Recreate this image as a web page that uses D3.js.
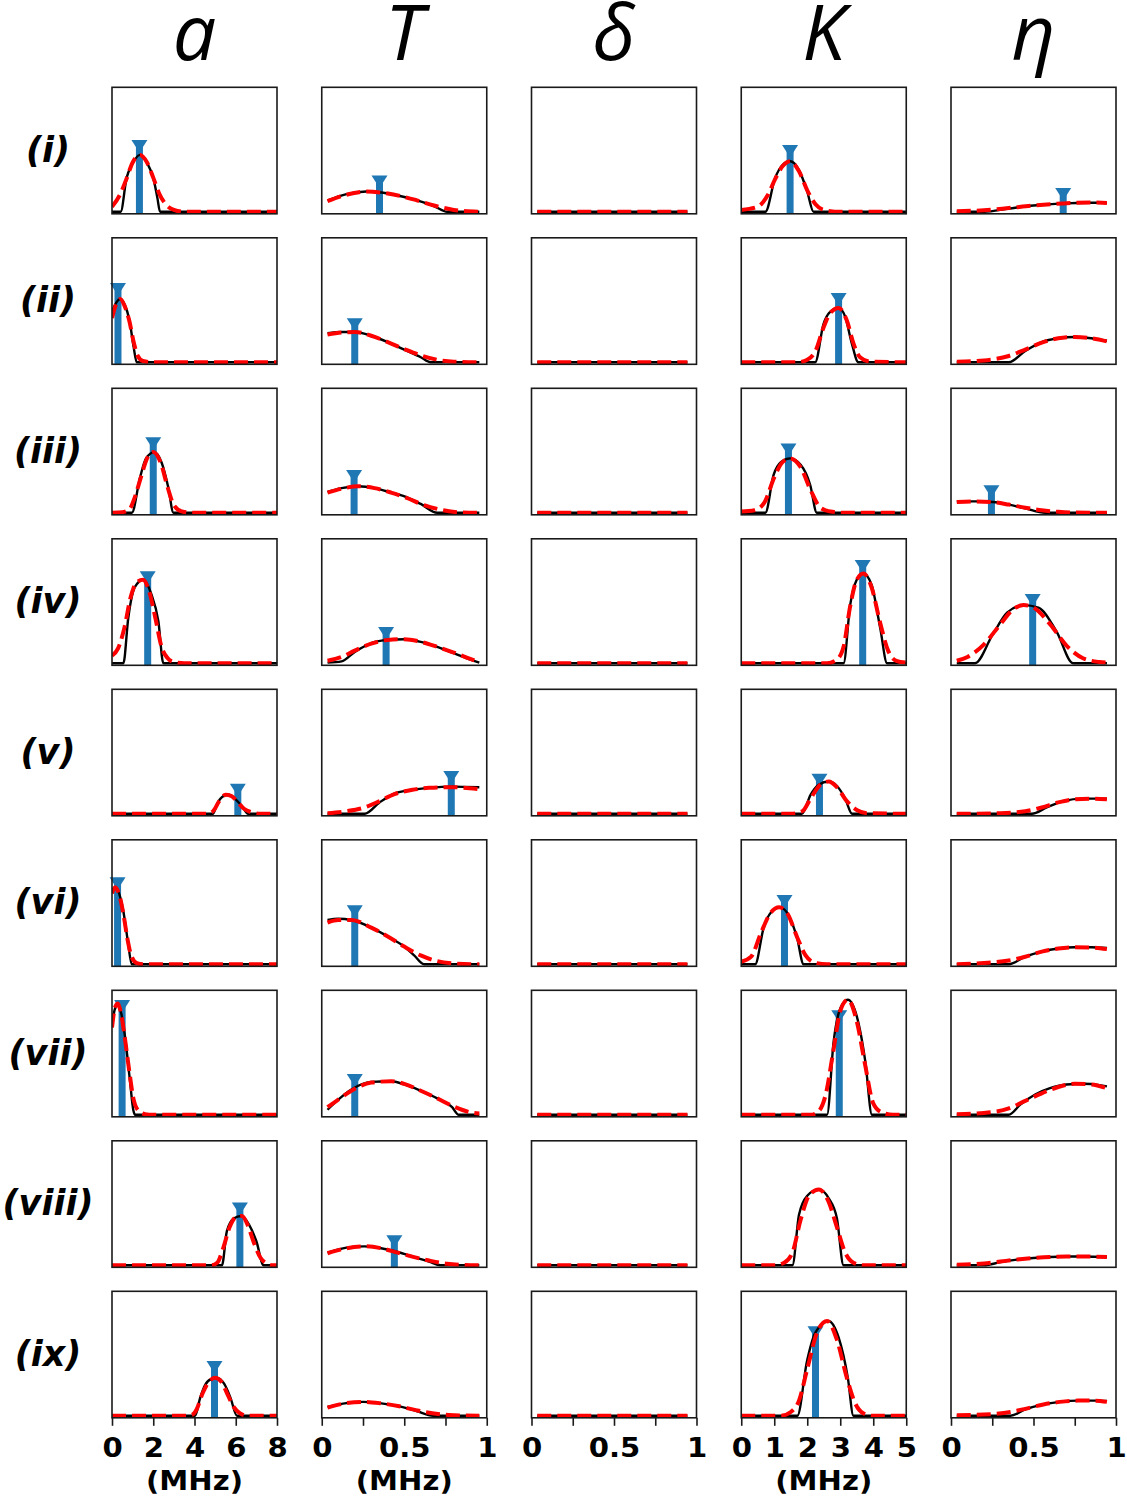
<!DOCTYPE html>
<html><head><meta charset="utf-8">
<script src="https://cdn.jsdelivr.net/npm/d3@7"></script>
<style>body{margin:0;background:#fff}</style>
</head><body><svg id="chart" width="1127" height="1500"></svg>
<script>
// ---------- labels & axes ----------
const rowLabels = ["(i)","(ii)","(iii)","(iv)","(v)","(vi)","(vii)","(viii)","(ix)"];
const paramNames = ["a","T","δ","K","η"];
const xDomains = [[0,8],[0,1],[0,1],[0,5],[0,1]];
const xTicks = [[0,2,4,6,8],[0,0.25,0.5,0.75,1],[0,0.25,0.5,0.75,1],[0,1,2,3,4,5],[0,0.25,0.5,0.75,1]];
const xTickLabels = [["0","2","4","6","8"],["0","","0.5","","1"],["0","","0.5","","1"],["0","1","2","3","4","5"],["0","","0.5","","1"]];
const unitLabels = ["(MHz)","(MHz)","","(MHz)",""];

// ---------- parameter a (MHz): black = reference posterior, red = approximation ----------
const aBlack = [
 [[0,0],[0.42,0],[0.71,0.27],[0.96,0.37],[1.36,0.45],[1.75,0.37],[2.0,0.27],[2.2,0.11],[2.33,0],[8,0]],
 [[0,0.40],[0.2,0.47],[0.4,0.50],[0.6,0.46],[0.85,0.33],[1.05,0.12],[1.2,0],[8,0]],
 [[0,0],[0.96,0],[1.36,0.28],[1.65,0.43],[2.05,0.48],[2.4,0.40],[2.73,0.20],[2.98,0],[8,0]],
 [[0,0],[0.55,0],[0.79,0.36],[1.1,0.60],[1.52,0.66],[1.9,0.55],[2.25,0.33],[2.49,0],[8,0]],
 [[0,0],[4.9,0],[5.1,0.08],[5.4,0.14],[5.65,0.15],[5.95,0.12],[6.3,0.06],[6.6,0],[8,0]],
 [[0,0.58],[0.18,0.61],[0.4,0.53],[0.55,0.42],[0.77,0.18],[0.96,0],[8,0]],
 [[0,0.72],[0.15,0.84],[0.3,0.87],[0.45,0.80],[0.63,0.62],[0.87,0.27],[1.03,0.04],[1.12,0],[8,0]],
 [[0,0],[5.33,0],[5.57,0.27],[5.9,0.37],[6.27,0.39],[6.65,0.32],[7.0,0.19],[7.35,0],[8,0]],
 [[0,0],[4.03,0],[4.27,0.14],[4.5,0.24],[4.8,0.29],[5.1,0.30],[5.45,0.25],[5.75,0.14],[6.06,0],[8,0]]
];
const aRed = [
 [[0,0.04],[0.4,0.14],[0.7,0.26],[1.0,0.39],[1.36,0.45],[1.7,0.39],[2.0,0.27],[2.3,0.14],[2.6,0.06],[3.0,0.015],[3.5,0],[8,0]],
 [[0,0.35],[0.2,0.46],[0.4,0.50],[0.6,0.45],[0.85,0.32],[1.05,0.16],[1.25,0.05],[1.5,0.01],[2,0],[8,0]],
 [[0,0],[0.5,0.005],[0.85,0.03],[1.1,0.12],[1.4,0.28],[1.7,0.43],[2.0,0.48],[2.35,0.40],[2.7,0.20],[3.0,0.06],[3.4,0.01],[4,0],[8,0]],
 [[0,0.06],[0.3,0.12],[0.6,0.28],[0.9,0.52],[1.2,0.64],[1.5,0.66],[1.8,0.57],[2.1,0.36],[2.4,0.13],[2.7,0.04],[3.0,0.01],[3.5,0],[8,0]],
 [[0,0],[4.6,0],[4.9,0.02],[5.2,0.10],[5.5,0.15],[5.8,0.14],[6.1,0.09],[6.4,0.04],[6.8,0.01],[7.2,0],[8,0]],
 [[0,0.56],[0.15,0.61],[0.35,0.55],[0.55,0.40],[0.75,0.20],[0.95,0.06],[1.2,0.01],[1.5,0],[8,0]],
 [[0,0.69],[0.15,0.85],[0.28,0.88],[0.45,0.79],[0.63,0.60],[0.85,0.33],[1.05,0.12],[1.3,0.03],[1.6,0.005],[2,0],[8,0]],
 [[0,0],[4.8,0],[5.1,0.02],[5.4,0.14],[5.7,0.30],[6.0,0.38],[6.3,0.39],[6.6,0.31],[6.9,0.17],[7.2,0.06],[7.5,0.015],[7.8,0],[8,0]],
 [[0,0],[3.6,0],[3.9,0.01],[4.1,0.05],[4.4,0.18],[4.75,0.28],[5.0,0.30],[5.3,0.27],[5.6,0.17],[5.9,0.07],[6.2,0.02],[6.6,0],[8,0]]
];
const aTrue = [[1.33,0.52],[0.29,0.58],[2.0,0.55],[1.73,0.68],[6.1,0.19],[0.27,0.64],[0.49,0.86],[6.2,0.45],[4.97,0.385]];

// ---------- parameter T ----------
const TBlack = [
 [[0.035,0.09],[0.15,0.14],[0.27,0.16],[0.4,0.145],[0.55,0.10],[0.68,0.045],[0.76,0],[0.955,0]],
 [[0.035,0.23],[0.12,0.24],[0.2,0.24],[0.3,0.21],[0.4,0.16],[0.5,0.10],[0.6,0.04],[0.66,0],[0.955,0]],
 [[0.035,0.165],[0.12,0.195],[0.22,0.21],[0.32,0.195],[0.42,0.16],[0.52,0.12],[0.6,0.07],[0.7,0],[0.955,0]],
 [[0.035,0.005],[0.12,0.015],[0.2,0.09],[0.3,0.16],[0.4,0.185],[0.5,0.19],[0.6,0.17],[0.7,0.13],[0.8,0.08],[0.9,0.03],[0.955,0.005]],
 [[0.035,0],[0.26,0],[0.35,0.09],[0.44,0.16],[0.55,0.19],[0.65,0.205],[0.79,0.215],[0.955,0.21]],
 [[0.035,0.35],[0.1,0.36],[0.18,0.35],[0.3,0.29],[0.4,0.22],[0.5,0.14],[0.56,0.07],[0.62,0],[0.955,0]],
 [[0.035,0.04],[0.1,0.12],[0.18,0.20],[0.3,0.26],[0.42,0.265],[0.5,0.24],[0.6,0.19],[0.7,0.13],[0.79,0.06],[0.83,0],[0.955,0]],
 [[0.035,0.10],[0.15,0.14],[0.26,0.15],[0.36,0.135],[0.46,0.105],[0.56,0.065],[0.65,0.03],[0.72,0],[0.955,0]],
 [[0.035,0.07],[0.15,0.10],[0.25,0.11],[0.35,0.10],[0.47,0.075],[0.57,0.04],[0.675,0],[0.955,0]]
];
const TRed = [
 [[0.035,0.085],[0.15,0.135],[0.27,0.16],[0.4,0.145],[0.55,0.10],[0.68,0.05],[0.8,0.015],[0.955,0]],
 [[0.035,0.22],[0.12,0.235],[0.2,0.24],[0.3,0.21],[0.4,0.16],[0.5,0.105],[0.6,0.055],[0.7,0.02],[0.8,0.005],[0.955,0]],
 [[0.035,0.16],[0.12,0.19],[0.22,0.21],[0.32,0.195],[0.42,0.16],[0.52,0.115],[0.62,0.06],[0.72,0.025],[0.82,0.005],[0.955,0]],
 [[0.035,0.02],[0.12,0.05],[0.2,0.10],[0.3,0.155],[0.4,0.185],[0.5,0.19],[0.6,0.17],[0.7,0.13],[0.8,0.085],[0.9,0.035],[0.955,0.01]],
 [[0.035,0.005],[0.15,0.02],[0.26,0.05],[0.35,0.10],[0.44,0.155],[0.55,0.19],[0.65,0.205],[0.79,0.21],[0.955,0.195]],
 [[0.035,0.33],[0.1,0.35],[0.18,0.35],[0.3,0.29],[0.4,0.22],[0.5,0.14],[0.6,0.07],[0.7,0.025],[0.8,0.007],[0.955,0]],
 [[0.035,0.06],[0.1,0.12],[0.18,0.19],[0.3,0.255],[0.42,0.265],[0.5,0.245],[0.6,0.19],[0.7,0.13],[0.8,0.065],[0.9,0.02],[0.955,0.01]],
 [[0.035,0.095],[0.15,0.135],[0.26,0.15],[0.36,0.135],[0.46,0.10],[0.56,0.065],[0.66,0.035],[0.76,0.012],[0.86,0.003],[0.955,0]],
 [[0.035,0.065],[0.15,0.10],[0.25,0.11],[0.35,0.10],[0.47,0.075],[0.57,0.045],[0.67,0.02],[0.77,0.007],[0.955,0]]
];
const TTrue = [[0.35,0.24],[0.2,0.30],[0.196,0.29],[0.39,0.24],[0.785,0.29],[0.2,0.42],[0.2,0.275],[0.44,0.19],null];

// ---------- parameter δ ----------
const deltaBlack = [
 [[0.035,0],[0.945,0]],[[0.035,0],[0.945,0]],[[0.035,0],[0.945,0]],
 [[0.035,0],[0.945,0]],[[0.035,0],[0.945,0]],[[0.035,0],[0.945,0]],
 [[0.035,0],[0.945,0]],[[0.035,0],[0.945,0]],[[0.035,0],[0.945,0]]
];
const deltaRed = [
 [[0.035,0],[0.945,0]],[[0.035,0],[0.945,0]],[[0.035,0],[0.945,0]],
 [[0.035,0],[0.945,0]],[[0.035,0],[0.945,0]],[[0.035,0],[0.945,0]],
 [[0.035,0],[0.945,0]],[[0.035,0],[0.945,0]],[[0.035,0],[0.945,0]]
];
const deltaTrue = [null,null,null,null,null,null,null,null,null];

// ---------- parameter K (MHz) ----------
const KBlack = [
 [[0,0],[0.73,0],[1.03,0.27],[1.25,0.37],[1.48,0.40],[1.75,0.33],[1.99,0.17],[2.19,0],[5,0]],
 [[0,0],[2.24,0],[2.49,0.30],[2.7,0.40],[2.95,0.43],[3.15,0.36],[3.35,0.15],[3.55,0],[5,0]],
 [[0,0],[0.73,0],[0.98,0.30],[1.2,0.40],[1.48,0.43],[1.8,0.38],[2.09,0.22],[2.29,0],[5,0]],
 [[0,0],[3.1,0],[3.3,0.46],[3.5,0.66],[3.7,0.71],[3.95,0.62],[4.21,0.28],[4.42,0],[5,0]],
 [[0,0],[1.84,0],[2.1,0.15],[2.35,0.23],[2.65,0.255],[2.9,0.22],[3.15,0.12],[3.36,0],[5,0]],
 [[0,0],[0.42,0],[0.68,0.29],[0.9,0.41],[1.18,0.45],[1.45,0.38],[1.69,0.21],[1.89,0],[5,0]],
 [[0,0],[2.6,0],[2.8,0.58],[3.0,0.84],[3.23,0.91],[3.5,0.78],[3.76,0.42],[3.96,0],[5,0]],
 [[0,0],[1.55,0],[1.75,0.40],[2.0,0.55],[2.35,0.60],[2.65,0.53],[2.9,0.37],[3.1,0],[5,0]],
 [[0,0],[1.7,0],[1.99,0.43],[2.25,0.66],[2.64,0.75],[2.95,0.62],[3.23,0.30],[3.4,0],[5,0]]
];
const KRed = [
 [[0,0.015],[0.5,0.04],[0.8,0.13],[1.03,0.26],[1.25,0.36],[1.48,0.40],[1.75,0.32],[2.0,0.17],[2.25,0.06],[2.5,0.015],[3,0],[5,0]],
 [[0,0],[1.7,0],[2.0,0.02],[2.25,0.09],[2.5,0.28],[2.7,0.39],[2.95,0.43],[3.2,0.33],[3.4,0.15],[3.6,0.04],[3.9,0.005],[5,0]],
 [[0,0.01],[0.4,0.02],[0.7,0.08],[1.0,0.28],[1.25,0.40],[1.48,0.43],[1.8,0.36],[2.1,0.18],[2.4,0.04],[2.7,0.01],[3.2,0],[5,0]],
 [[0,0],[2.6,0],[2.9,0.03],[3.1,0.13],[3.3,0.45],[3.5,0.66],[3.7,0.71],[3.95,0.60],[4.2,0.33],[4.45,0.10],[4.7,0.02],[5,0.005]],
 [[0,0],[1.5,0],[1.85,0.02],[2.1,0.12],[2.4,0.23],[2.65,0.255],[2.9,0.21],[3.2,0.10],[3.5,0.03],[3.8,0.005],[5,0]],
 [[0,0.02],[0.3,0.06],[0.6,0.25],[0.9,0.41],[1.15,0.45],[1.4,0.40],[1.7,0.21],[1.95,0.07],[2.2,0.015],[2.6,0],[5,0]],
 [[0,0],[2.1,0],[2.35,0.03],[2.55,0.15],[2.8,0.52],[3.0,0.82],[3.23,0.91],[3.5,0.74],[3.75,0.40],[4.0,0.09],[4.25,0.02],[4.6,0],[5,0]],
 [[0,0],[1.0,0],[1.3,0.02],[1.55,0.10],[1.8,0.36],[2.05,0.55],[2.35,0.60],[2.65,0.50],[2.9,0.30],[3.15,0.10],[3.4,0.02],[3.7,0],[5,0]],
 [[0,0],[1.2,0],[1.5,0.03],[1.75,0.12],[2.0,0.37],[2.3,0.66],[2.6,0.75],[2.9,0.60],[3.2,0.30],[3.45,0.10],[3.7,0.02],[4.0,0],[5,0]]
];
const KTrue = [[1.48,0.48],[2.95,0.50],[1.43,0.50],[3.68,0.77],[2.37,0.27],[1.31,0.50],[2.97,0.78],null,[2.25,0.66]];

// ---------- parameter η ----------
const etaBlack = [
 [[0.035,0],[0.2,0],[0.35,0.025],[0.5,0.05],[0.68,0.067],[0.85,0.072],[0.945,0.072]],
 [[0.035,0],[0.35,0],[0.45,0.09],[0.55,0.16],[0.65,0.19],[0.75,0.20],[0.85,0.19],[0.945,0.17]],
 [[0.035,0.09],[0.15,0.09],[0.25,0.085],[0.35,0.065],[0.45,0.035],[0.57,0],[0.945,0]],
 [[0.035,0],[0.145,0],[0.25,0.22],[0.34,0.40],[0.44,0.46],[0.53,0.44],[0.64,0.25],[0.74,0],[0.945,0]],
 [[0.035,0],[0.49,0],[0.58,0.05],[0.68,0.10],[0.8,0.12],[0.9,0.12],[0.945,0.12]],
 [[0.035,0],[0.35,0],[0.45,0.06],[0.55,0.10],[0.65,0.125],[0.75,0.135],[0.85,0.135],[0.945,0.13]],
 [[0.035,0],[0.35,0],[0.42,0.08],[0.51,0.16],[0.6,0.21],[0.7,0.24],[0.8,0.245],[0.9,0.235],[0.945,0.225]],
 [[0.035,0],[0.2,0],[0.3,0.025],[0.4,0.045],[0.5,0.058],[0.6,0.066],[0.7,0.07],[0.8,0.07],[0.945,0.066]],
 [[0.035,0],[0.36,0],[0.45,0.05],[0.56,0.09],[0.66,0.11],[0.77,0.12],[0.87,0.12],[0.945,0.118]]
];
const etaRed = [
 [[0.035,0.005],[0.2,0.012],[0.35,0.03],[0.5,0.05],[0.68,0.066],[0.85,0.073],[0.945,0.07]],
 [[0.035,0.005],[0.2,0.015],[0.35,0.05],[0.45,0.10],[0.55,0.155],[0.65,0.19],[0.75,0.20],[0.85,0.19],[0.945,0.165]],
 [[0.035,0.085],[0.15,0.09],[0.25,0.085],[0.35,0.065],[0.45,0.04],[0.55,0.02],[0.65,0.008],[0.75,0.002],[0.945,0]],
 [[0.035,0.02],[0.1,0.05],[0.2,0.15],[0.3,0.31],[0.38,0.43],[0.44,0.46],[0.5,0.44],[0.6,0.31],[0.7,0.14],[0.8,0.04],[0.9,0.01],[0.945,0.005]],
 [[0.035,0],[0.3,0.005],[0.45,0.02],[0.55,0.05],[0.65,0.09],[0.75,0.115],[0.85,0.12],[0.945,0.115]],
 [[0.035,0],[0.2,0.01],[0.35,0.03],[0.45,0.06],[0.55,0.10],[0.65,0.125],[0.75,0.135],[0.85,0.133],[0.945,0.12]],
 [[0.035,0.005],[0.2,0.015],[0.35,0.05],[0.45,0.11],[0.55,0.17],[0.65,0.22],[0.75,0.245],[0.85,0.24],[0.945,0.21]],
 [[0.035,0.005],[0.2,0.015],[0.3,0.03],[0.4,0.045],[0.5,0.057],[0.6,0.066],[0.7,0.07],[0.8,0.07],[0.945,0.065]],
 [[0.035,0.005],[0.2,0.01],[0.36,0.03],[0.45,0.055],[0.56,0.09],[0.66,0.11],[0.77,0.12],[0.87,0.12],[0.945,0.11]]
];
const etaTrue = [[0.68,0.14],null,[0.245,0.17],[0.495,0.50],null,null,null,null,null];

// ---------- drawing ----------
const blackSets = [aBlack, TBlack, deltaBlack, KBlack, etaBlack];
const redSets = [aRed, TRed, deltaRed, KRed, etaRed];
const trueSets = [aTrue, TTrue, deltaTrue, KTrue, etaTrue];

const svg = d3.select("#chart");
svg.append("rect").attr("width",1127).attr("height",1500).attr("fill","#fff");
const defs = svg.append("defs");

const colX0 = 112, colStep = 209.75, rowY0 = 87.3, rowStep = 150.5, PW = 165, PH = 126.5;
const BLUE = "#1f77b4";

// column headers
paramNames.forEach((p, c) => {
  svg.append("text")
    .attr("x", colX0 + c*colStep + PW/2).attr("y", 60)
    .attr("text-anchor","middle")
    .style("font-family","'Open Sans'").style("font-style","italic")
    .style("font-size","77px").attr("fill","#000")
    .text(p);
});

// row labels
rowLabels.forEach((lab, r) => {
  svg.append("text")
    .attr("x", 48).attr("y", rowY0 + r*rowStep + PH/2 + 11)
    .attr("text-anchor","middle")
    .style("font-family","'DejaVu Sans'").style("font-weight","bold").style("font-style","oblique")
    .style("font-size","35px").attr("fill","#000")
    .text(lab);
});

for (let r = 0; r < rowLabels.length; r++) {
  for (let c = 0; c < paramNames.length; c++) {
    const g = svg.append("g").attr("transform", `translate(${colX0 + c*colStep},${rowY0 + r*rowStep})`);
    const x = d3.scaleLinear().domain(xDomains[c]).range([0, PW]);
    const y = d3.scaleLinear().domain([0, 1]).range([PH - 2, -2]);
    const cid = `clip-${r}-${c}`;
    defs.append("clipPath").attr("id", cid).append("rect").attr("x",0).attr("y",0).attr("width",PW).attr("height",PH);

    const t = trueSets[c][r];
    if (t) {
      g.append("rect")
        .attr("x", x(t[0]) - 3.5).attr("y", y(t[1]))
        .attr("width", 7).attr("height", PH - y(t[1]))
        .attr("fill", BLUE);
      g.append("path")
        .attr("transform", `translate(${x(t[0])},${y(t[1])})`)
        .attr("d", "M-8,-6L8,-6L0,6.5Z")
        .attr("fill", BLUE);
    }
    const inner = g.append("g").attr("clip-path", `url(#${cid})`);
    const line = d3.line().x(d => x(d[0])).y(d => y(d[1])).curve(d3.curveMonotoneX);
    inner.append("path").datum(blackSets[c][r])
      .attr("d", line).attr("fill","none").attr("stroke","#000").attr("stroke-width",2.4)
      .attr("stroke-linejoin","round");
    inner.append("path").datum(redSets[c][r])
      .attr("d", line).attr("fill","none").attr("stroke","#ff0000").attr("stroke-width",4)
      .attr("stroke-dasharray","14,6");

    g.append("rect").attr("x",0).attr("y",0).attr("width",PW).attr("height",PH)
      .attr("fill","none").attr("stroke","#1a1a1a").attr("stroke-width",1.6);

    if (r === rowLabels.length - 1) {
      const ax = g.append("g").attr("transform", `translate(0,${PH})`)
        .call(d3.axisBottom(x).tickValues(xTicks[c])
          .tickFormat((d, i) => xTickLabels[c][i]).tickSize(8).tickPadding(13));
      ax.select(".domain").remove();
      ax.selectAll(".tick line").attr("stroke","#1a1a1a").attr("stroke-width",1.6);
      ax.selectAll(".tick text")
        .attr("transform","scale(1.12,1)")
        .style("font-family","'DejaVu Sans'").style("font-weight","bold")
        .style("font-size","26px").attr("fill","#000");
      if (unitLabels[c]) {
        g.append("text")
          .attr("transform", `translate(${PW/2},${PH + 72}) scale(1.12,1)`)
          .attr("text-anchor","middle")
          .style("font-family","'DejaVu Sans'").style("font-weight","bold")
          .style("font-size","26px").attr("fill","#000")
          .text(unitLabels[c]);
      }
    }
  }
}
</script>
</body></html>
